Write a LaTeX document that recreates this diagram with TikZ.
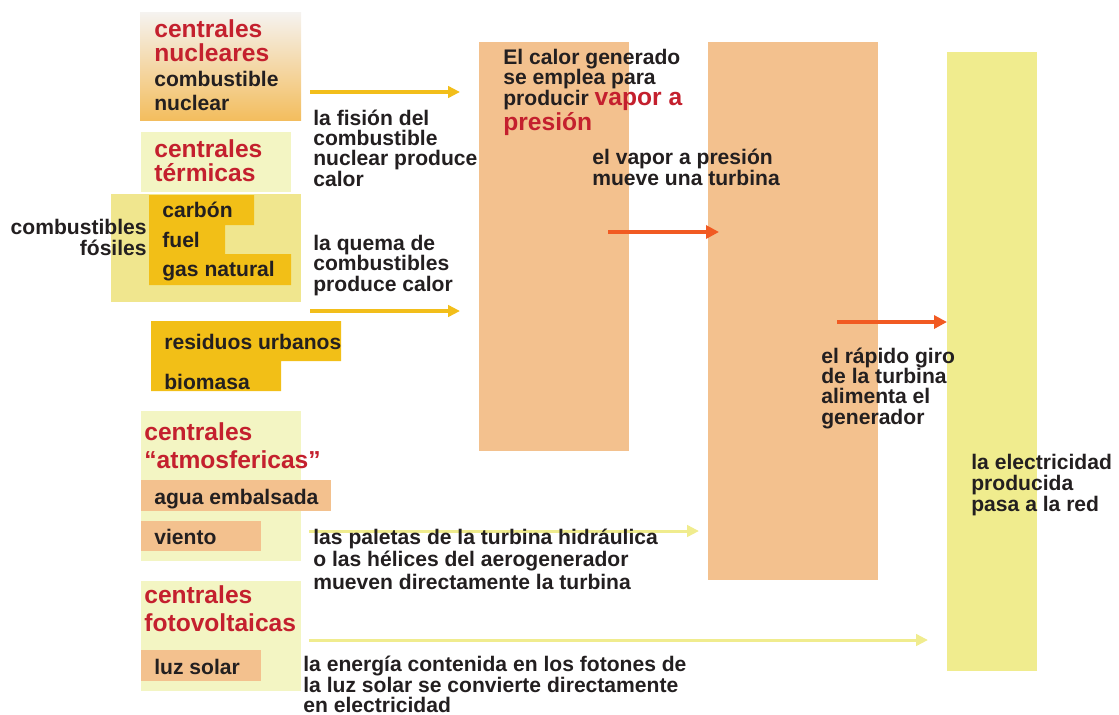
\documentclass[tikz,border=0pt]{standalone}
\usepackage{fontspec}
\setmainfont{Liberation Sans}
\usepackage{xcolor}
\usepackage{tikz}
\usetikzlibrary{arrows.meta}
\definecolor{ink}{HTML}{231F20}
\definecolor{rojo}{HTML}{C4202E}
\definecolor{melocoton}{HTML}{F3C18E}
\definecolor{crema}{HTML}{F3F5C3}
\definecolor{paja}{HTML}{F0E68E}
\definecolor{oro}{HTML}{F2BF17}
\definecolor{limon}{HTML}{F0EC8E}
\definecolor{naranja}{HTML}{F15A22}
\definecolor{ambar}{HTML}{F2BE1A}
\definecolor{nieve}{HTML}{F5F3F0}
\definecolor{miel}{HTML}{F3BD5E}

\begin{document}
\begin{tikzpicture}[x=0.02cm,y=-0.02cm]
	\useasboundingbox (0,0) rectangle (1119,714);
	\shade[top color=nieve,bottom color=miel] (140,12) rectangle (301,120);
	\fill[crema] (141,132) rectangle (291,192);
	\fill[paja] (111,194) rectangle (301,302);
	\fill[oro] (149,195) -- (254,195) -- (254,225) -- (225,225) -- (225,254) -- (291,254) -- (291,285) -- (149,285) -- cycle;
	\fill[oro] (151,321) -- (341,321) -- (341,361) -- (281,361) -- (281,391) -- (151,391) -- cycle;
	\fill[crema] (141,411) rectangle (301,561);
	\fill[melocoton] (141,480) rectangle (331,511);
	\fill[melocoton] (141,521) rectangle (261,551);
	\fill[crema] (141,581) rectangle (301,691);
	\fill[melocoton] (141,650) rectangle (261,681);
	\fill[melocoton] (479,42) rectangle (629,451);
	\fill[melocoton] (708,42) rectangle (878,580);
	\fill[limon] (947,52) rectangle (1037,671);
	\tikzstyle{flecha}=[line width=2pt,-{Triangle[length=6.8pt,width=6.5pt]}]
	\tikzstyle{gruesa}=[line width=2.8pt,-{Triangle[length=7.4pt,width=7.4pt]}]
	\coordinate (nucA) at (310,92);
	\coordinate (nucB) at (460,92);
	\coordinate (terA) at (310,311);
	\coordinate (terB) at (460,311);
	\coordinate (vapA) at (608,232);
	\coordinate (vapB) at (719,232);
	\coordinate (girA) at (837,322);
	\coordinate (girB) at (947,322);
	\coordinate (atmA) at (309,531);
	\coordinate (atmB) at (699,531);
	\coordinate (fotA) at (309,640);
	\coordinate (fotB) at (928,640);
	\draw[flecha,ambar] (nucA) -- (nucB);
	\draw[flecha,ambar] (terA) -- (terB);
	\draw[gruesa,naranja] (vapA) -- (vapB);
	\draw[gruesa,naranja] (girA) -- (girB);
	\draw[flecha,limon,line width=1.7pt] (atmA) -- (atmB);
	\draw[flecha,limon,line width=1.7pt] (fotA) -- (fotB);
	\tikzstyle{every node}=[inner sep=0pt,anchor=base west,align=left,text=ink,font=\bfseries\fontsize{12}{11.55}\selectfont]
	\tikzstyle{titulo}=[text=rojo,font=\bfseries\fontsize{14}{13.66}\selectfont]
	\node[titulo] (nuc) at (154,61) {centrales\\nucleares};
	\node[font=\bfseries\fontsize{12}{13.1}\selectfont] (cnuc) at (154,110) {combustible\\nuclear};
	\node[titulo] (ter) at (154,181) {centrales\\térmicas};
	\node[anchor=base east,align=right] (fos) at (147,255) {combustibles\\fósiles};
	\node (carb) at (162,217) {carbón};
	\node (fuel) at (162,247) {fuel};
	\node (gas) at (162,276) {gas natural};
	\node (res) at (164,349) {residuos urbanos};
	\node (bio) at (164,389) {biomasa};
	\node[titulo,font=\bfseries\fontsize{14}{15.9}\selectfont] (atm) at (144,468) {centrales\\“atmosfericas”};
	\node (agua) at (154,504) {agua embalsada};
	\node (vie) at (154,544) {viento};
	\node[titulo,font=\bfseries\fontsize{14}{15.4}\selectfont] (fot) at (144,631) {centrales\\fotovoltaicas};
	\node (luz) at (154,674) {luz solar};
	\node (fis) at (313,186) {la fisión del\\combustible\\nuclear produce\\calor};
	\node (que) at (313,291) {la quema de\\combustibles\\produce calor};
	\node (cal) at (503,130) {El calor generado\\se emplea para\\producir {\color{rojo}\fontsize{14}{14}\selectfont vapor a}\\{\color{rojo}\fontsize{14}{14}\selectfont presión}};
	\node (vap) at (592,185) {el vapor a presión\\mueve una turbina};
	\node (gir) at (821,424) {el rápido giro\\de la turbina\\alimenta el\\generador};
	\node[font=\bfseries\fontsize{12}{11.95}\selectfont] (ele) at (971,511) {la electricidad\\producida\\pasa a la red};
	\node[font=\bfseries\fontsize{12}{12.8}\selectfont] (pal) at (313,589) {las paletas de la turbina hidráulica\\o las hélices del aerogenerador\\mueven directamente la turbina};
	\node[font=\bfseries\fontsize{12}{11.1}\selectfont] (ene) at (303,712) {la energía contenida en los fotones de\\la luz solar se convierte directamente\\en electricidad};
\end{tikzpicture}
\end{document}
